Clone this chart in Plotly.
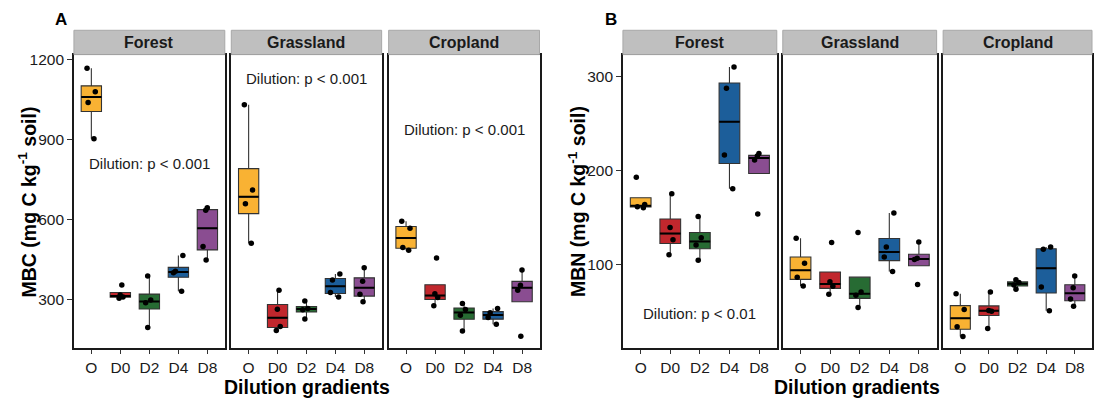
import numpy as np
import plotly.graph_objects as go

groups = ["O", "D0", "D2", "D4", "D8"]
colors = ["#F9B233", "#C1272D", "#276B33", "#1C5E9A", "#8A4D91"]
systems = ["Forest", "Grassland", "Cropland"]

# MBC (panel A), per system: lists for O, D0, D2, D4, D8
mbc_forest = [[1168, 1080, 1040, 904], [356, 318, 311, 306], [389, 299, 289, 196],
              [466, 407, 402, 332], [645, 636, 500, 449]]
mbc_grassland = [[1031, 712, 660, 512], [336, 265, 200, 185], [296, 268, 263, 228],
                 [397, 374, 328, 311], [420, 370, 321, 293]]
mbc_cropland = [[595, 568, 496, 486], [457, 323, 309, 278], [286, 264, 242, 183],
                [268, 252, 234, 209], [412, 355, 336, 164]]

# MBN (panel B)
mbn_forest = [[193, 164, 161.7, 160.7], [175.5, 139.6, 126.6, 110.7], [151.2, 128.7, 121, 104.8],
              [310.2, 287.7, 216.6, 180.7], [218.4, 215.6, 211.3, 154]]
mbn_grassland = [[128.3, 101.6, 86.8, 77.3], [123.7, 81.9, 77, 68.5], [134.3, 71, 67.5, 54.5],
                 [155.1, 118.8, 108.3, 92.8], [124.1, 106.9, 105.5, 79]]
mbn_cropland = [[69.2, 52.3, 34, 23.8], [71, 51.3, 50.6, 32.3], [84, 81, 78.5, 74],
                [118.8, 116.4, 76.3, 51], [87.9, 75.6, 63.6, 55.9]]

p_labels_A = ["Dilution: p < 0.001", "Dilution: p < 0.001", "Dilution: p < 0.001"]
p_pos_A = [810, 1128, 940]
p_label_B = "Dilution: p < 0.01"
p_pos_B = 48

yticks_A = [300, 600, 900, 1200]
yticks_B = [100, 200, 300]
yrange_A = [118, 1219]
yrange_B = [11, 323.5]

W, H = 1094, 405
FONT = "Liberation Sans, Arial, Helvetica, sans-serif"

# panel geometry in pixels
xdom_px = [(74, 225), (231.5, 382), (389, 540), (623.5, 777.5), (783.5, 937.5), (944, 1093)]
ytop, ybot = 52, 348
ydom = [(H - ybot) / H, (H - ytop) / H]

fig = go.Figure()


def stats(vals):
    v = np.sort(np.array(vals, dtype=float))
    q1, med, q3 = np.percentile(v, [25, 50, 75])
    iqr = q3 - q1
    lo = v[v >= q1 - 1.5 * iqr].min()
    hi = v[v <= q3 + 1.5 * iqr].max()
    return q1, med, q3, min(lo, q1), max(hi, q3)


datasets = [mbc_forest, mbc_grassland, mbc_cropland, mbn_forest, mbn_grassland, mbn_cropland]

for k, data in enumerate(datasets):
    xa = "x" if k == 0 else f"x{k+1}"
    ya = "y" if k == 0 else f"y{k+1}"
    for i, vals in enumerate(data):
        q1, med, q3, lo, hi = stats(vals)
        fig.add_trace(go.Box(
            x=[i], q1=[q1], median=[med], q3=[q3], lowerfence=[lo], upperfence=[hi],
            width=0.7, fillcolor=colors[i], line=dict(color="#333333", width=1.1),
            whiskerwidth=0, boxpoints=False, hoverinfo="skip", showlegend=False,
            xaxis=xa, yaxis=ya))
        # median line
        fig.add_trace(go.Box(
            x=[i], q1=[med], median=[med], q3=[med], lowerfence=[med], upperfence=[med],
            width=0.7, fillcolor="rgba(0,0,0,0)", line=dict(color="#000000", width=2),
            whiskerwidth=0, boxpoints=False, hoverinfo="skip", showlegend=False,
            xaxis=xa, yaxis=ya))
    xs, ys = [], []
    for i, vals in enumerate(data):
        xs += [i] * len(vals)
        ys += list(vals)
    fig.add_trace(go.Box(
        x=xs, y=ys, boxpoints="all", jitter=0.5, pointpos=0, width=0.7,
        fillcolor="rgba(0,0,0,0)", line=dict(color="rgba(0,0,0,0)", width=0),
        marker=dict(color="black", size=5.5, line=dict(width=0)),
        whiskerwidth=0, hoverinfo="skip", showlegend=False, xaxis=xa, yaxis=ya))

layout = dict(
    width=W, height=H, margin=dict(l=0, r=0, t=0, b=0),
    paper_bgcolor="white", plot_bgcolor="white", boxmode="overlay",
    font=dict(family=FONT, color="#1a1a1a"), showlegend=False,
)

shapes = []
annotations = []
for k in range(6):
    sfx = "" if k == 0 else str(k + 1)
    x0, x1 = xdom_px[k]
    layout["xaxis" + sfx] = dict(
        domain=[x0 / W, x1 / W], range=[-0.6, 4.6], tickvals=list(range(5)), ticktext=groups,
        showline=True, mirror=True, linecolor="#1a1a1a", linewidth=1.6,
        ticks="outside", ticklen=4, tickcolor="#333333", showgrid=False, zeroline=False,
        tickfont=dict(size=15.5, color="#1a1a1a"), anchor="y" + sfx, fixedrange=True)
    panelA = k < 3
    first = k in (0, 3)
    layout["yaxis" + sfx] = dict(
        domain=ydom, range=yrange_A if panelA else yrange_B,
        tickvals=yticks_A if panelA else yticks_B,
        showticklabels=first, ticks="outside" if first else "", ticklen=5, tickcolor="#333333",
        showline=True, mirror=True, linecolor="#1a1a1a", linewidth=1.6,
        showgrid=False, zeroline=False, tickfont=dict(size=15.5, color="#1a1a1a"),
        anchor="x" + sfx, fixedrange=True)
    # strip
    shapes.append(dict(type="rect", xref="paper", yref="paper",
                       x0=x0 / W, x1=x1 / W, y0=(H - ytop) / H, y1=(H - 27.5) / H,
                       fillcolor="#BFBFBF", line=dict(color="#A8A8A8", width=1)))
    annotations.append(dict(xref="paper", yref="paper", x=(x0 + x1) / 2 / W, y=(H - 40) / H,
                            text="<b>%s</b>" % systems[k % 3], showarrow=False,
                            font=dict(size=16, color="#1a1a1a"), xanchor="center", yanchor="middle"))
    if panelA:
        annotations.append(dict(xref="x" + sfx, yref="y" + sfx, x=2, y=p_pos_A[k],
                                text=p_labels_A[k], showarrow=False,
                                font=dict(size=15, color="#1a1a1a")))
    elif k == 3:
        annotations.append(dict(xref="x" + sfx, yref="y" + sfx, x=2, y=p_pos_B,
                                text=p_label_B, showarrow=False,
                                font=dict(size=15, color="#1a1a1a")))

# axis titles and panel labels
annotations += [
    dict(xref="paper", yref="paper", x=27 / W, y=(H - 200) / H, textangle=-90,
         text="<b>MBC (mg C kg<sup>-1</sup> soil)</b>", showarrow=False,
         font=dict(size=19.5, color="#000000"), xanchor="center", yanchor="middle"),
    dict(xref="paper", yref="paper", x=577 / W, y=(H - 200) / H, textangle=-90,
         text="<b>MBN (mg C kg<sup>-1</sup> soil)</b>", showarrow=False,
         font=dict(size=19.5, color="#000000"), xanchor="center", yanchor="middle"),
    dict(xref="paper", yref="paper", x=307 / W, y=(H - 387) / H,
         text="<b>Dilution gradients</b>", showarrow=False,
         font=dict(size=19.5, color="#000000"), xanchor="center", yanchor="middle"),
    dict(xref="paper", yref="paper", x=858 / W, y=(H - 387) / H,
         text="<b>Dilution gradients</b>", showarrow=False,
         font=dict(size=19.5, color="#000000"), xanchor="center", yanchor="middle"),
    dict(xref="paper", yref="paper", x=61 / W, y=(H - 17) / H,
         text="<b>A</b>", showarrow=False, font=dict(size=17, color="#000000"),
         xanchor="center", yanchor="middle"),
    dict(xref="paper", yref="paper", x=612 / W, y=(H - 17) / H,
         text="<b>B</b>", showarrow=False, font=dict(size=17, color="#000000"),
         xanchor="center", yanchor="middle"),
]

layout["shapes"] = shapes
layout["annotations"] = annotations
fig.update_layout(**layout)
fig.write_html("out.html", config={"displayModeBar": False},
               post_script="document.body.style.margin='0';document.body.style.padding='0';")
